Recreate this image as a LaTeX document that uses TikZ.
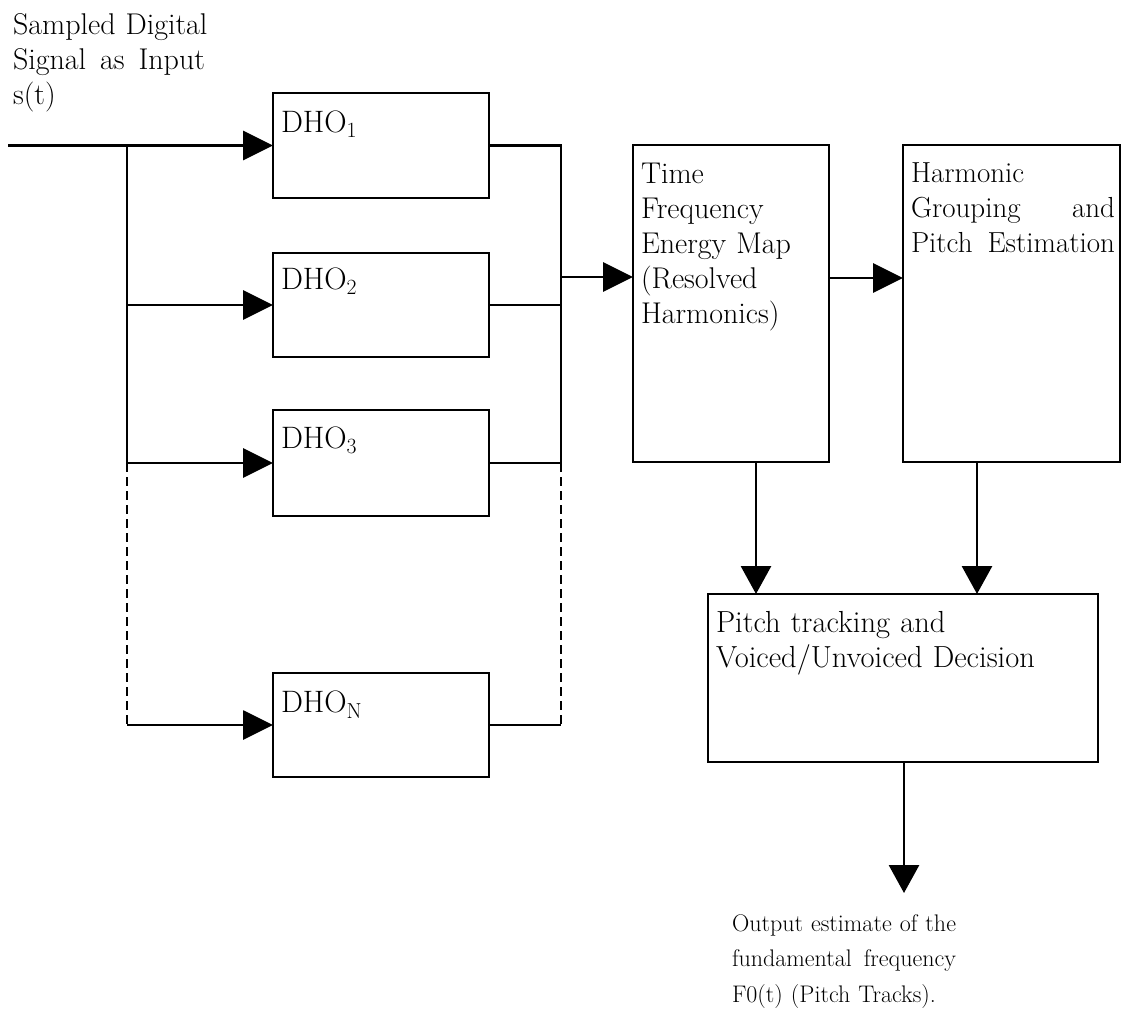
\documentclass[tikz,border=0pt]{standalone}
\usepackage{fontspec}
\usetikzlibrary{arrows.meta}
\begin{document}
\begin{tikzpicture}[x=1pt,y=-1pt,
  box/.style={draw, line width=2.9pt, inner sep=0pt, outer sep=0pt, anchor=north west},
  wire/.style={line width=2.9pt},
  dsh/.style={line width=2.4pt, dash pattern=on 9pt off 5pt},
  arr/.style={line width=2.9pt, -{Triangle[length=30pt,width=29pt]}},
  varr/.style={line width=2.9pt, -{Triangle[length=28pt,width=30pt]}},
  lbl/.style={inner sep=0pt, outer sep=0pt, anchor=base west, align=left, font=\fontsize{30}{35}\selectfont},
  dlbl/.style={inner sep=0pt, outer sep=0pt, anchor=base west, font=\fontsize{31}{35}\selectfont}]
\useasboundingbox (0,0) rectangle (1122,1010);

% DHO boxes
\node[box, minimum width=216pt, minimum height=105pt] (d1) at (273,93) {};
\node[box, minimum width=216pt, minimum height=104pt] (d2) at (273,253) {};
\node[box, minimum width=216pt, minimum height=106pt] (d3) at (273,410) {};
\node[box, minimum width=216pt, minimum height=104pt] (dN) at (273,673) {};
\node[dlbl] (t1) at (281,132) {DHO\textsubscript{1}};
\node[dlbl] (t2) at (281,289) {DHO\textsubscript{2}};
\node[dlbl] (t3) at (281,448) {DHO\textsubscript{3}};
\node[dlbl] (tN) at (281,712) {DHO\textsubscript{N}};

% main boxes
\node[box, minimum width=196pt, minimum height=317pt] (tf) at (633,145) {};
\node[box, minimum width=217pt, minimum height=317pt] (hg) at (903,145) {};
\node[box, minimum width=390pt, minimum height=168pt] (pt) at (708,594) {};

% texts
\node[lbl, text width=200pt] (inl) at (13,34)
  {Sampled Digital\\\makebox[192pt]{Signal\hfill as\hfill Input}\\s(t)};
\node[lbl, text width=180pt] (tfl) at (641,183)
  {Time\\Frequency\\Energy Map\\(Resolved\\Harmonics)};
\node[lbl, text width=210pt, font=\fontsize{29}{35}\selectfont] (hgl) at (911,182)
  {Harmonic\\\makebox[204pt]{Grouping\hfill and}\\\makebox[204pt]{Pitch\hfill Estimation}};
\node[lbl, text width=375pt, font=\fontsize{30.5}{35}\selectfont] (ptl) at (716,632)
  {Pitch tracking and\\Voiced/Unvoiced Decision};
\node[lbl, text width=235pt, font=\fontsize{24}{35.5}\selectfont] (outl) at (732,931)
  {\makebox[224pt]{Output\hfill estimate\hfill of\hfill the}\\\makebox[224pt]{fundamental\hfill frequency}\\F0(t) (Pitch Tracks).};

% coordinates
\coordinate (in) at (8,145.5);
\coordinate (lbus) at (127,0);
\coordinate (rbus) at (561,0);
\coordinate (m1) at (561,277);
\coordinate (m2) at (0,278);
\coordinate (c1) at (756,0);
\coordinate (c2) at (977,0);
\coordinate (outtip) at (904,893);

% input and left bus
\draw[arr] (in) -- (d1.west);
\draw[wire] (d1.west -| lbus) -- (d3.west -| lbus);
\draw[dsh] (d3.west -| lbus) -- (dN.west -| lbus);
\draw[arr] (d2.west -| lbus) -- (d2.west);
\draw[arr] (d3.west -| lbus) -- (d3.west);
\draw[arr] (dN.west -| lbus) -- (dN.west);

% right bus
\draw[wire] (d1.east) -- (d1.east -| rbus) -- (d3.east -| rbus) -- (d3.east);
\draw[wire] (d2.east) -- (d2.east -| rbus);
\draw[dsh] (d3.east -| rbus) -- (dN.east -| rbus);
\draw[wire] (dN.east) -- (dN.east -| rbus);

% flow
\draw[arr] (m1) -- (m1 -| tf.west);
\draw[arr] (tf.east |- m2) -- (hg.west |- m2);
\draw[varr] (tf.south -| c1) -- (pt.north -| c1);
\draw[varr] (hg.south -| c2) -- (pt.north -| c2);
\draw[varr] (pt.south -| outtip) -- (outtip);
\end{tikzpicture}
\end{document}
